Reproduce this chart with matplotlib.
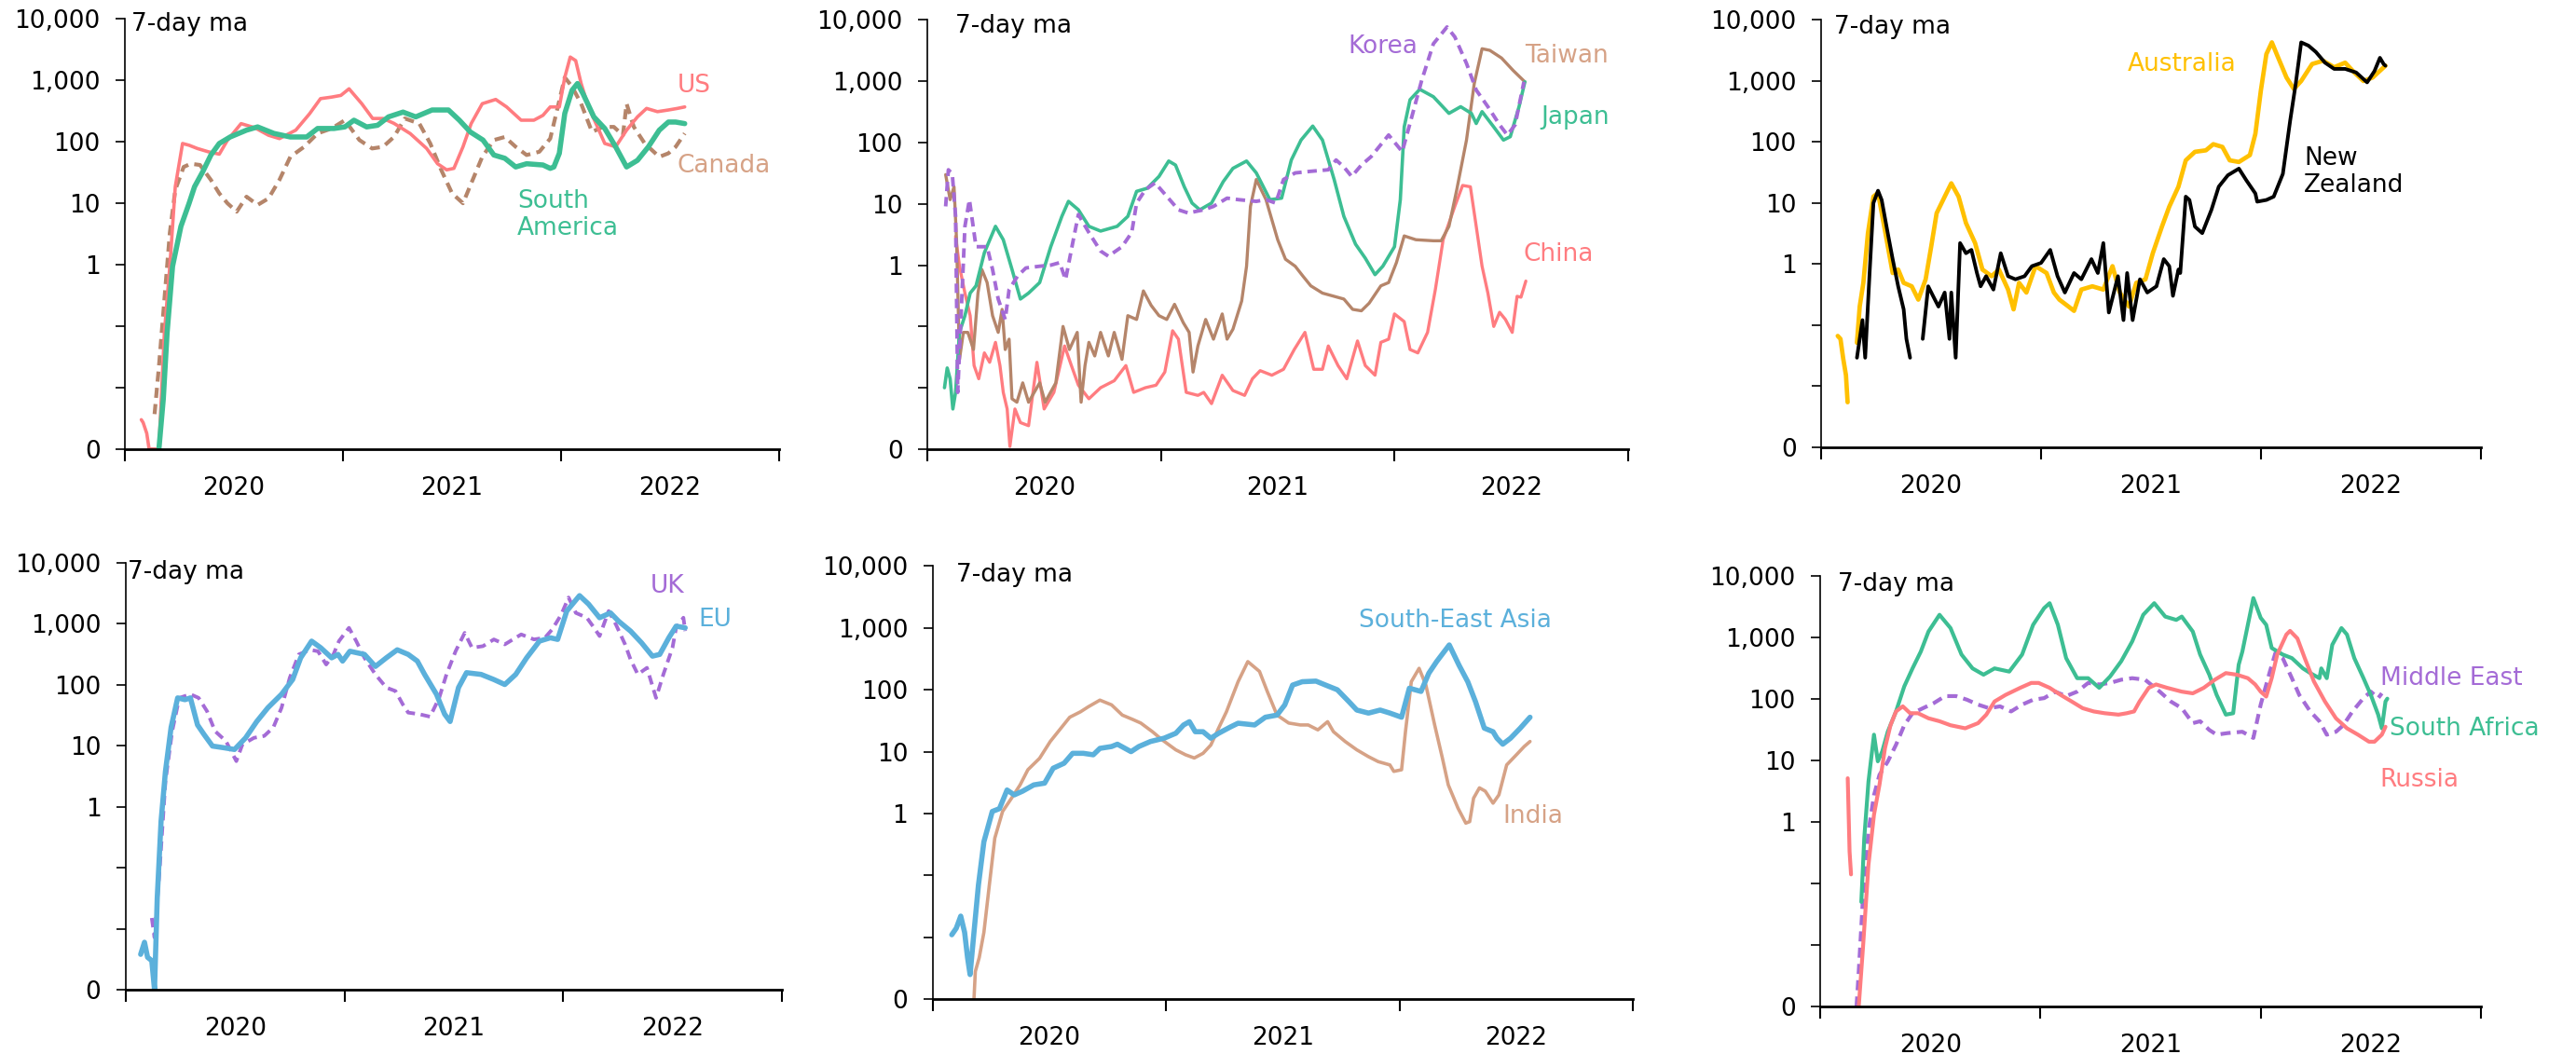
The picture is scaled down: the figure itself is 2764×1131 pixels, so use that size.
import numpy as np
import matplotlib
matplotlib.use("Agg")
import matplotlib.pyplot as plt
from matplotlib.ticker import NullLocator

plt.rcParams['font.family'] = ['DejaVu Sans']

nan = np.nan

# x values are months since Jan 2020, y values are 7-day ma (log scale, 0.001 shown as "0")
# ---- panel 1: Americas
us_pts = [(0.9, 0.003), (1.0, 0.0027), (1.2, 0.0018), (1.33, 0.001), (1.87, 0.001), (2.17, 0.078),
          (2.47, 0.94), (2.77, 18.6), (3.17, 94), (3.53, 88), (3.98, 78), (4.58, 69), (5.19, 63),
          (5.64, 106), (6.39, 198), (7.14, 170), (7.9, 128), (8.5, 113), (9.4, 155), (10.16, 287),
          (10.76, 505), (11.37, 535), (11.88, 570), (12.33, 730), (13.03, 418), (13.63, 240),
          (14.2, 240), (14.8, 200), (15.7, 136), (16.6, 78), (17.2, 44), (17.7, 35), (18.1, 37),
          (18.6, 83), (19.05, 198), (19.66, 418), (20.4, 490), (21.0, 370), (21.8, 225), (22.5, 225),
          (23.0, 270), (23.4, 370), (23.9, 370), (24.2, 1120), (24.5, 2400), (24.8, 2100), (25.1, 890),
          (25.5, 370), (26.0, 175), (26.4, 94), (27.0, 83), (27.6, 155), (28.2, 255), (28.7, 350),
          (29.3, 310), (29.9, 330), (30.4, 350), (30.8, 370)]
samerica_pts = [(1.87, 0.001), (2.11, 0.0065), (2.32, 0.078), (2.62, 0.94), (3.08, 4.2), (3.53, 10),
                (3.83, 18.6), (4.28, 32.6), (4.73, 61), (5.19, 94), (5.79, 120), (6.69, 155), (7.3, 175),
                (8.2, 137), (9.1, 120), (10.0, 120), (10.6, 165), (11.5, 165), (12.1, 175), (12.6, 225),
                (13.3, 175), (13.9, 186), (14.5, 255), (15.3, 305), (16.0, 255), (16.9, 330), (17.8, 330),
                (18.4, 225), (19.0, 145), (19.7, 107), (20.3, 61), (20.9, 54), (21.5, 39), (22.1, 44),
                (23.0, 42), (23.4, 37), (23.6, 39), (23.9, 65), (24.2, 290), (24.6, 690), (24.9, 890),
                (25.2, 610), (25.8, 255), (26.4, 165), (27.0, 83), (27.6, 39), (28.2, 50), (28.8, 83),
                (29.4, 155), (29.9, 210), (30.3, 210), (30.8, 198)]
canada_pts = [(1.63, 0.0037), (1.87, 0.022), (2.17, 0.27), (2.47, 3.3), (2.77, 16.5), (3.23, 39),
              (3.62, 44), (4.13, 42), (4.73, 24), (5.19, 14.5), (5.64, 10), (6.15, 7.3), (6.69, 12.8),
              (7.3, 9.4), (7.9, 12), (8.5, 24), (9.1, 57), (9.86, 83), (10.6, 137), (11.37, 165),
              (12.1, 225), (12.9, 107), (13.6, 78), (14.2, 83), (14.8, 120), (15.4, 240), (16.2, 198),
              (16.8, 94), (17.4, 35), (18.0, 14.5), (18.6, 10), (19.05, 21), (19.66, 57), (20.3, 107),
              (20.9, 120), (21.5, 83), (22.1, 61), (22.8, 69), (23.4, 113), (23.9, 470), (24.2, 1120),
              (24.6, 790), (25.1, 418), (25.7, 145), (26.3, 175), (26.9, 175), (27.4, 128), (27.6, 418),
              (28.0, 175), (28.6, 94), (29.4, 57), (29.9, 65), (30.3, 83), (30.8, 137)]

# ---- panel 2: North Asia
japan_pts = [(0.88, 0.01), (1.02, 0.021), (1.17, 0.014), (1.31, 0.0045), (1.45, 0.0084), (1.65, 0.08),
             (1.93, 0.15), (2.2, 0.35), (2.5, 0.46), (2.93, 1.6), (3.5, 4.3), (3.9, 2.6), (4.35, 0.85),
             (4.78, 0.28), (5.2, 0.35), (5.77, 0.52), (6.34, 2.0), (6.91, 6.25), (7.25, 11), (7.76, 8),
             (8.3, 4.3), (8.9, 3.6), (9.75, 4.3), (10.3, 6.25), (10.75, 16), (11.3, 18), (11.9, 28),
             (12.4, 50), (12.75, 43), (13.2, 19), (13.6, 10.3), (14.0, 8), (14.6, 10.3), (15.2, 23),
             (15.7, 38), (16.4, 50), (16.9, 32), (17.6, 11.7), (18.2, 12.4), (18.7, 52), (19.2, 110),
             (19.8, 186), (20.3, 110), (20.9, 25), (21.4, 6.25), (22.0, 2.2), (22.5, 1.3), (23.0, 0.7),
             (23.4, 0.96), (24.0, 2.0), (24.3, 11.7), (24.5, 180), (24.8, 500), (25.3, 740), (26.0, 560),
             (26.8, 300), (27.4, 385), (27.95, 300), (28.2, 205), (28.5, 320), (29.1, 180), (29.6, 110),
             (29.95, 125), (30.4, 385), (30.7, 980)]
korea_pts = [(0.94, 9.1), (1.08, 36), (1.28, 31), (1.45, 6.3), (1.56, 0.0084), (1.93, 4.3), (2.16, 11.7),
             (2.5, 2.0), (3.07, 2.0), (3.35, 0.85), (3.64, 0.28), (4.0, 0.13), (4.2, 0.4), (4.63, 0.66),
             (5.06, 0.9), (5.77, 0.96), (6.34, 1.0), (6.8, 1.1), (7.1, 0.58), (7.5, 2.6), (7.76, 6.7),
             (8.3, 3.4), (8.9, 1.7), (9.3, 1.4), (10.0, 2.0), (10.5, 3.4), (10.75, 10.3), (11.2, 17),
             (11.7, 22), (12.3, 13.3), (12.9, 8), (13.4, 7.1), (14.2, 8), (14.7, 9.1), (15.4, 12.4),
             (16.0, 11.7), (16.9, 11), (17.4, 11.7), (17.9, 10.3), (18.3, 25), (18.9, 32), (19.7, 34),
             (20.6, 36), (21.0, 52), (21.4, 40), (21.8, 28), (22.3, 43), (22.8, 59), (23.7, 133),
             (24.4, 71), (24.8, 207), (25.4, 1040), (26.0, 4100), (26.7, 7700), (27.1, 5300),
             (27.7, 1960), (28.2, 720), (28.8, 385), (29.4, 195), (29.8, 133), (30.2, 195), (30.65, 980)]
taiwan_pts = [(0.94, 30), (1.17, 11.7), (1.37, 19), (1.5, 2.6), (1.65, 0.029), (1.85, 0.08), (2.08, 0.08),
              (2.37, 0.042), (2.6, 0.35), (2.8, 0.85), (3.07, 0.52), (3.35, 0.15), (3.64, 0.08), (3.84, 0.19),
              (4.0, 0.042), (4.2, 0.062), (4.35, 0.0066), (4.6, 0.0058), (4.9, 0.012), (5.2, 0.0058),
              (5.77, 0.012), (6.05, 0.0058), (6.6, 0.012), (6.97, 0.1), (7.3, 0.042), (7.7, 0.08),
              (7.9, 0.0058), (8.1, 0.023), (8.3, 0.055), (8.6, 0.033), (8.9, 0.08), (9.3, 0.033),
              (9.6, 0.08), (10.0, 0.029), (10.3, 0.15), (10.75, 0.13), (11.1, 0.38), (11.5, 0.22),
              (11.9, 0.15), (12.3, 0.13), (12.7, 0.23), (13.15, 0.115), (13.45, 0.08), (13.65, 0.018),
              (13.9, 0.048), (14.3, 0.13), (14.7, 0.062), (15.15, 0.16), (15.4, 0.062), (15.7, 0.09),
              (16.15, 0.26), (16.4, 0.96), (16.6, 9.1), (16.9, 25), (17.4, 11.7), (18.0, 2.6), (18.4, 1.25),
              (18.9, 0.96), (19.3, 0.66), (19.7, 0.46), (20.3, 0.35), (20.9, 0.31), (21.4, 0.28),
              (21.85, 0.19), (22.3, 0.18), (22.7, 0.24), (23.3, 0.46), (23.7, 0.52), (24.1, 1.1),
              (24.5, 3.0), (25.1, 2.6), (26.0, 2.5), (26.4, 2.5), (26.8, 4.3), (27.2, 17), (27.7, 110),
              (28.1, 920), (28.5, 3400), (28.9, 3200), (29.5, 2400), (30.1, 1500), (30.7, 980)]
china_pts = [(1.45, 2.95), (1.65, 0.96), (1.93, 0.35), (2.2, 0.15), (2.4, 0.023), (2.64, 0.014), (2.93, 0.037),
             (3.2, 0.026), (3.5, 0.055), (3.73, 0.023), (3.9, 0.0084), (4.1, 0.0045), (4.24, 0.0011),
             (4.5, 0.0045), (4.78, 0.0027), (5.2, 0.0024), (5.63, 0.026), (6.0, 0.0045), (6.5, 0.0084),
             (7.05, 0.048), (7.4, 0.023), (7.76, 0.011), (8.3, 0.0066), (8.9, 0.01), (9.6, 0.013),
             (10.2, 0.023), (10.6, 0.0084), (11.2, 0.01), (11.75, 0.011), (12.2, 0.018), (12.6, 0.085),
             (12.9, 0.062), (13.3, 0.0084), (13.9, 0.0075), (14.2, 0.0084), (14.6, 0.0055), (15.15, 0.016),
             (15.7, 0.009), (16.3, 0.0075), (16.7, 0.014), (17.1, 0.019), (17.7, 0.016), (18.3, 0.02),
             (18.85, 0.042), (19.4, 0.08), (19.85, 0.02), (20.3, 0.02), (20.6, 0.048), (21.1, 0.023),
             (21.55, 0.014), (22.1, 0.058), (22.5, 0.023), (23.0, 0.016), (23.3, 0.055), (23.7, 0.062),
             (24.0, 0.16), (24.5, 0.12), (24.8, 0.042), (25.2, 0.037), (25.7, 0.08), (26.1, 0.4),
             (26.5, 2.6), (27.1, 9.1), (27.5, 20), (27.9, 19), (28.2, 4.3), (28.5, 0.96), (28.8, 0.35),
             (29.1, 0.1), (29.4, 0.17), (29.7, 0.13), (30.05, 0.08), (30.3, 0.31), (30.5, 0.3), (30.75, 0.55)]

# ---- panel 3: Oceania
australia_pts = [(0.9, 0.066), (1.05, 0.059), (1.2, 0.028), (1.35, 0.015), (1.44, 0.0054), (1.7, nan),
                 (1.95, 0.051), (2.1, 0.2), (2.3, 0.49), (2.55, 3.2), (2.85, 12.7), (3.1, 14.7), (3.44, 4.1),
                 (3.9, 0.71), (4.2, 0.81), (4.5, 0.49), (4.94, 0.43), (5.3, 0.26), (5.7, 0.56), (6.0, 1.9),
                 (6.3, 6.8), (6.74, 12.7), (7.1, 21), (7.5, 12.7), (7.9, 4.7), (8.4, 2.2), (8.8, 0.81),
                 (9.3, 0.63), (9.7, 0.81), (10.2, 0.38), (10.5, 0.18), (10.8, 0.49), (11.2, 0.34),
                 (11.7, 0.92), (12.3, 0.71), (12.7, 0.34), (13.0, 0.26), (13.5, 0.2), (13.8, 0.17),
                 (14.2, 0.38), (14.8, 0.43), (15.4, 0.38), (15.9, 0.92), (16.3, 0.34), (16.8, 0.2),
                 (17.2, 0.49), (17.7, 0.56), (18.1, 1.5), (18.6, 4.1), (19.0, 8.7), (19.5, 18.5), (19.9, 50),
                 (20.4, 69), (21.0, 73), (21.4, 92), (21.9, 83), (22.3, 50), (22.8, 47), (23.4, 61),
                 (23.7, 136), (24.0, 700), (24.3, 2760), (24.6, 4300), (24.9, 2600), (25.4, 1140),
                 (25.8, 740), (26.2, 1000), (26.8, 1900), (27.4, 2150), (28.0, 1680), (28.6, 2000),
                 (29.1, 1380), (29.6, 1000), (30.1, 1140), (30.8, 1780)]
nz_pts = [(1.95, 0.029), (2.1, 0.059), (2.25, 0.12), (2.4, 0.029), (2.64, 0.71), (2.85, 10), (3.1, 15.9),
          (3.3, 11.2), (3.6, 3.6), (3.9, 1.2), (4.2, 0.43), (4.5, 0.18), (4.65, 0.059), (4.85, 0.029),
          (5.2, nan), (5.54, 0.059), (5.84, 0.43), (6.1, 0.3), (6.4, 0.2), (6.74, 0.34), (7.0, 0.059),
          (7.1, 0.34), (7.34, 0.029), (7.58, 2.2), (7.9, 1.5), (8.2, 1.7), (8.5, 0.71), (8.7, 0.43),
          (9.0, 0.63), (9.4, 0.38), (9.8, 1.5), (10.2, 0.63), (10.6, 0.56), (11.1, 0.63), (11.5, 0.92),
          (12.0, 1.04), (12.5, 1.7), (12.9, 0.63), (13.3, 0.34), (13.8, 0.71), (14.2, 0.56), (14.75, 1.2),
          (15.1, 0.71), (15.4, 2.2), (15.7, 0.16), (16.2, 0.63), (16.5, 0.12), (16.7, 0.71), (17.0, 0.12),
          (17.4, 0.56), (17.8, 0.34), (18.3, 0.43), (18.7, 1.2), (19.0, 0.92), (19.2, 0.3), (19.5, 0.81),
          (19.6, 0.71), (19.9, 12.7), (20.1, 11.2), (20.4, 4.1), (20.8, 3.2), (21.3, 7.7), (21.7, 18.5),
          (22.2, 28.5), (22.8, 36.6), (23.2, 23.7), (23.7, 14.3), (23.8, 10.5), (24.3, 11.2), (24.7, 12.7),
          (25.2, 30), (25.6, 225), (25.9, 890), (26.2, 4300), (26.6, 3800), (27.0, 3000), (27.5, 2000),
          (28.0, 1580), (28.6, 1580), (29.2, 1380), (29.8, 950), (30.2, 1450), (30.5, 2400), (30.7, 1900),
          (30.8, 1780)]

# ---- panel 4: Europe
eu_pts = [(0.82, 0.0038), (1.03, 0.006), (1.2, 0.0034), (1.43, 0.003), (1.58, 0.001), (1.73, 0.032),
          (1.94, 0.58), (2.18, 3.8), (2.49, 20), (2.85, 61), (3.25, 57), (3.55, 61), (3.94, 22), (4.3, 15.3),
          (4.76, 9.9), (5.37, 9.3), (5.97, 8.7), (6.58, 13.5), (7.19, 25), (7.8, 42), (8.55, 70), (9.16, 122),
          (9.6, 277), (10.2, 520), (10.7, 405), (11.3, 277), (11.65, 315), (11.9, 245), (12.3, 355),
          (13.1, 315), (13.7, 200), (14.3, 277), (14.9, 375), (15.5, 315), (16.0, 245), (16.4, 148),
          (17.05, 70), (17.5, 33), (17.8, 25), (18.26, 90), (18.7, 158), (19.5, 148), (20.2, 122),
          (20.8, 101), (21.4, 148), (22.0, 277), (22.7, 520), (23.3, 590), (23.7, 555), (24.2, 1620),
          (24.9, 2900), (25.4, 2100), (26.0, 1260), (26.6, 1510), (27.05, 1100), (27.7, 760), (28.3, 490),
          (28.9, 295), (29.3, 315), (29.8, 590), (30.2, 915), (30.7, 860)]
uk_pts = [(1.43, 0.015), (1.58, 0.0072), (1.88, 0.113), (2.18, 2.6), (2.55, 17.4), (2.94, 61), (3.55, 70),
          (4.0, 61), (4.46, 37), (4.9, 17.4), (5.5, 11.9), (6.07, 5.6), (6.4, 10.5), (7.04, 13.5), (7.6, 14.5),
          (8.1, 20), (8.55, 42), (9.0, 130), (9.5, 315), (10.1, 375), (10.55, 355), (11.0, 215), (11.4, 315),
          (11.7, 520), (12.25, 860), (12.65, 520), (13.1, 277), (13.7, 148), (14.3, 90), (14.8, 79),
          (15.2, 48), (15.5, 35), (16.1, 33), (16.7, 30), (17.2, 61), (17.6, 148), (18.1, 355), (18.6, 710),
          (19.0, 405), (19.6, 430), (20.2, 555), (20.8, 460), (21.7, 670), (22.4, 555), (23.0, 590),
          (23.4, 810), (23.9, 1420), (24.3, 2700), (24.7, 1510), (25.3, 1260), (25.7, 860), (26.0, 630),
          (26.5, 1620), (26.9, 970), (27.4, 460), (27.7, 260), (28.1, 148), (28.6, 190), (29.1, 61),
          (29.5, 148), (30.0, 405), (30.2, 860), (30.6, 1260), (30.7, 760)]

# ---- panel 5: South & South-East Asia
seasia_pts = [(0.99, 0.011), (1.22, 0.014), (1.45, 0.022), (1.65, 0.012), (1.8, 0.0047), (1.93, 0.0025),
              (2.13, 0.012), (2.36, 0.07), (2.64, 0.35), (3.07, 1.08), (3.44, 1.2), (3.83, 2.4), (4.2, 2.0),
              (4.63, 2.3), (5.2, 2.9), (5.76, 3.1), (6.2, 5.4), (6.76, 6.5), (7.2, 9.4), (7.75, 9.4),
              (8.26, 8.9), (8.6, 11.3), (9.2, 12.1), (9.5, 13.2), (10.2, 10), (10.6, 12.1), (11.2, 14.6),
              (11.9, 16.5), (12.5, 19.8), (12.9, 27), (13.2, 30.5), (13.5, 21), (13.9, 21), (14.3, 16.5),
              (14.7, 19.8), (15.3, 25), (15.7, 28.8), (16.55, 27), (17.1, 36), (17.7, 39), (18.1, 57),
              (18.5, 119), (19.0, 135), (19.7, 138), (20.2, 119), (20.8, 100), (21.4, 64), (21.8, 47),
              (22.4, 42), (23.0, 47), (23.5, 42), (24.1, 36), (24.5, 106), (25.1, 94), (25.5, 185),
              (25.9, 285), (26.55, 530), (27.05, 250), (27.5, 135), (27.9, 64), (28.35, 24), (28.8, 21),
              (29.0, 16.5), (29.3, 13.2), (29.7, 16.5), (30.2, 24), (30.7, 36)]
india_pts = [(2.13, 0.001), (2.2, 0.0028), (2.4, 0.0047), (2.64, 0.012), (2.92, 0.07), (3.2, 0.4), (3.6, 1.08),
             (4.06, 1.77), (4.5, 2.9), (4.9, 5.1), (5.5, 7.8), (6.05, 14.6), (6.6, 24), (7.05, 36), (7.6, 44),
             (8.0, 53), (8.6, 68), (9.2, 57), (9.75, 39), (10.3, 33), (10.7, 29), (11.3, 21), (11.8, 15.5),
             (12.5, 10.7), (13.0, 8.9), (13.45, 7.9), (13.9, 9.4), (14.3, 12.8), (14.7, 24), (15.1, 44),
             (15.7, 135), (16.2, 285), (16.8, 198), (17.2, 94), (17.7, 39), (18.3, 29), (18.9, 27), (19.3, 27),
             (19.8, 22.5), (20.3, 30.5), (20.6, 21), (21.2, 14.6), (21.8, 10.7), (22.4, 8.3), (22.9, 6.9),
             (23.5, 6.1), (23.7, 4.8), (24.1, 5.1), (24.3, 21), (24.6, 135), (25.0, 222), (25.35, 119),
             (25.8, 27), (26.2, 7.8), (26.5, 2.9), (27.0, 1.22), (27.4, 0.7), (27.6, 0.74), (27.8, 1.77),
             (28.1, 2.6), (28.4, 2.3), (28.8, 1.47), (29.1, 2.0), (29.5, 6.1), (30.0, 8.9), (30.4, 12.1),
             (30.7, 14.6)]

# ---- panel 6: EM others
safrica_pts = [(2.24, 0.05), (2.4, 0.54), (2.63, 4.5), (2.93, 26), (3.14, 9.6), (3.38, 13.9), (3.68, 29),
               (4.13, 62), (4.58, 158), (5.03, 310), (5.48, 580), (5.9, 1230), (6.5, 2300), (7.1, 1400),
               (7.7, 520), (8.3, 310), (8.9, 245), (9.5, 310), (10.3, 275), (11.0, 520), (11.6, 1580),
               (12.2, 2950), (12.5, 3550), (12.95, 1580), (13.4, 455), (14.0, 215), (14.6, 215), (15.2, 150),
               (15.8, 230), (16.4, 405), (17.0, 850), (17.6, 2300), (18.2, 3550), (18.8, 2150), (19.4, 1900),
               (19.7, 2150), (20.3, 1230), (20.7, 520), (21.2, 245), (21.6, 115), (22.1, 55), (22.5, 58),
               (22.8, 355), (23.0, 580), (23.3, 1580), (23.6, 4300), (24.0, 2050), (24.3, 1580), (24.6, 665),
               (25.2, 520), (25.7, 455), (26.3, 310), (26.7, 260), (27.2, 215), (27.3, 310), (27.6, 215),
               (27.9, 750), (28.4, 1400), (28.7, 1100), (29.1, 455), (29.6, 215), (30.0, 115), (30.4, 55),
               (30.6, 33), (30.8, 90), (30.9, 100)]
mideast_pts = [(1.98, 0.001), (2.1, 0.0037), (2.33, 0.058), (2.63, 0.7), (2.93, 2.7), (3.23, 5.8), (3.68, 9.5),
               (4.13, 17.8), (4.58, 37), (5.03, 58), (5.6, 70), (6.2, 85), (6.8, 110), (7.4, 110), (8.0, 96),
               (8.6, 80), (9.2, 70), (9.8, 75), (10.4, 62), (11.0, 80), (11.6, 96), (12.2, 102), (12.8, 130),
               (13.4, 110), (14.0, 130), (14.6, 180), (15.2, 170), (15.8, 180), (16.4, 203), (17.0, 215),
               (17.7, 203), (18.5, 130), (19.1, 90), (19.7, 70), (20.3, 40), (20.7, 43), (21.2, 31), (21.6, 26),
               (22.2, 27.6), (23.0, 29), (23.6, 23), (24.0, 80), (24.5, 275), (24.8, 550), (25.2, 455),
               (25.7, 215), (26.1, 115), (26.7, 62), (27.2, 43), (27.6, 26), (28.1, 29), (28.5, 37), (29.0, 62),
               (29.6, 102), (30.0, 130), (30.4, 102), (30.6, 122)]
russia_pts = [(1.5, 5.1), (1.6, 0.33), (1.68, 0.14), (1.9, nan), (2.1, 0.001), (2.33, 0.009), (2.63, 0.2),
              (2.93, 1.3), (3.23, 4.0), (3.53, 15.7), (3.83, 37), (4.13, 62), (4.5, 75), (4.9, 58), (5.33, 58),
              (5.9, 48), (6.5, 43), (7.1, 37), (7.9, 33), (8.6, 40), (9.05, 55), (9.5, 90), (10.1, 115),
              (10.9, 150), (11.5, 180), (11.9, 180), (12.5, 150), (13.1, 115), (13.7, 90), (14.3, 70),
              (14.9, 62), (15.5, 58), (16.25, 55), (16.7, 58), (17.1, 62), (17.4, 90), (17.9, 150), (18.3, 170),
              (18.9, 150), (19.7, 130), (20.3, 122), (20.9, 150), (21.5, 203), (22.1, 260), (22.7, 245),
              (23.3, 215), (23.7, 170), (24.0, 130), (24.3, 108), (24.6, 215), (24.9, 520), (25.4, 1100),
              (25.6, 1260), (26.0, 950), (26.4, 455), (26.9, 190), (27.5, 90), (28.1, 48), (28.7, 33),
              (29.3, 26), (29.9, 20), (30.2, 20), (30.6, 26), (30.8, 35)]

year_labels = ["2020", "2021", "2022"]
ytick_vals = [1e-3, 1e-2, 1e-1, 1, 10, 100, 1000, 10000]
ytick_labels = ["0", "", "", "1", "10", "100", "1,000", "10,000"]

PINK = "#FF7C80"
GREEN = "#3DBE93"
BROWN = "#B5856A"
TAN = "#D6A286"
PURPLE = "#A46BD6"
BLUE = "#5BB0DB"
GOLD = "#FFC000"
BLACK = "#000000"

FS = 19

fig = plt.figure(figsize=(27.64, 11.31), dpi=100)

positions = [
    [0.0485, 0.574, 0.254, 0.408],
    [0.360, 0.574, 0.272, 0.407],
    [0.707, 0.576, 0.256, 0.405],
    [0.0488, 0.061, 0.2547, 0.405],
    [0.362, 0.052, 0.272, 0.411],
    [0.7066, 0.045, 0.2565, 0.409],
]
ma_pos = [(0.01, 0.988), (0.04, 0.985), (0.02, 0.983), (0.003, 0.977), (0.034, 0.979), (0.027, 0.979)]


def style(ax, ma_xy):
    ax.set_yscale("log")
    ax.set_ylim(1e-3, 1e4)
    ax.set_xlim(0, 36)
    ax.spines["top"].set_visible(False)
    ax.spines["right"].set_visible(False)
    ax.spines["left"].set_linewidth(1.2)
    ax.spines["bottom"].set_linewidth(2)
    ax.set_yticks(ytick_vals)
    ax.set_yticklabels(ytick_labels)
    ax.yaxis.set_minor_locator(NullLocator())
    ax.set_xticks([0, 12, 24, 36])
    ax.set_xticklabels([])
    ax.set_xticks([6, 18, 30], minor=True)
    ax.set_xticklabels(year_labels, minor=True)
    ax.tick_params(axis="x", which="major", length=9, width=1.5, direction="out")
    ax.tick_params(axis="x", which="minor", length=0, pad=21, labelsize=FS)
    ax.tick_params(axis="y", which="major", length=7, width=1.2, pad=12, labelsize=FS)
    ax.text(ma_xy[0], ma_xy[1], "7-day ma", transform=ax.transAxes, fontsize=FS, va="center", ha="left")


def line(ax, pts, color, lw, dashed=False):
    x, y = zip(*pts)
    kw = dict(color=color, lw=lw, solid_joinstyle="round", solid_capstyle="round")
    if dashed:
        kw.update(linestyle=(0, (2.6, 1.6)), dash_capstyle="butt")
    ax.plot(x, y, **kw)


def label(ax, x, y, txt, color):
    ax.text(x, y, txt, color=color, fontsize=FS, ha="left", va="center", linespacing=1.15)


axs = [fig.add_axes(p) for p in positions]
for ax, mp in zip(axs, ma_pos):
    style(ax, mp)

ax = axs[0]
line(ax, canada_pts, BROWN, 3.0, dashed=True)
line(ax, us_pts, PINK, 2.6)
line(ax, samerica_pts, GREEN, 4.0)
label(ax, 30.4, 810, "US", PINK)
label(ax, 30.4, 41, "Canada", TAN)
label(ax, 21.6, 6.5, "South\nAmerica", GREEN)

ax = axs[1]
line(ax, china_pts, PINK, 2.4)
line(ax, taiwan_pts, BROWN, 2.4)
line(ax, japan_pts, GREEN, 2.6)
line(ax, korea_pts, PURPLE, 2.8, dashed=True)
label(ax, 21.6, 3630, "Korea", PURPLE)
label(ax, 30.7, 2560, "Taiwan", TAN)
label(ax, 31.5, 255, "Japan", GREEN)
label(ax, 30.6, 1.5, "China", PINK)

ax = axs[2]
line(ax, australia_pts, GOLD, 3.4)
line(ax, nz_pts, BLACK, 2.8)
label(ax, 16.7, 1860, "Australia", GOLD)
label(ax, 26.35, 32, "New\nZealand", BLACK)

ax = axs[3]
line(ax, uk_pts, PURPLE, 2.8, dashed=True)
line(ax, eu_pts, BLUE, 4.0)
label(ax, 28.8, 4150, "UK", PURPLE)
label(ax, 31.4, 1180, "EU", BLUE)

ax = axs[4]
line(ax, india_pts, TAN, 2.6)
line(ax, seasia_pts, BLUE, 4.0)
label(ax, 21.9, 1310, "South-East Asia", BLUE)
label(ax, 29.3, 0.9, "India", TAN)

ax = axs[5]
line(ax, mideast_pts, PURPLE, 3.0, dashed=True)
line(ax, safrica_pts, GREEN, 3.0)
line(ax, russia_pts, PINK, 3.0)
label(ax, 30.5, 215, "Middle East", PURPLE)
label(ax, 31.0, 33, "South Africa", GREEN)
label(ax, 30.5, 4.8, "Russia", PINK)

fig.savefig("out.png", dpi=100)
